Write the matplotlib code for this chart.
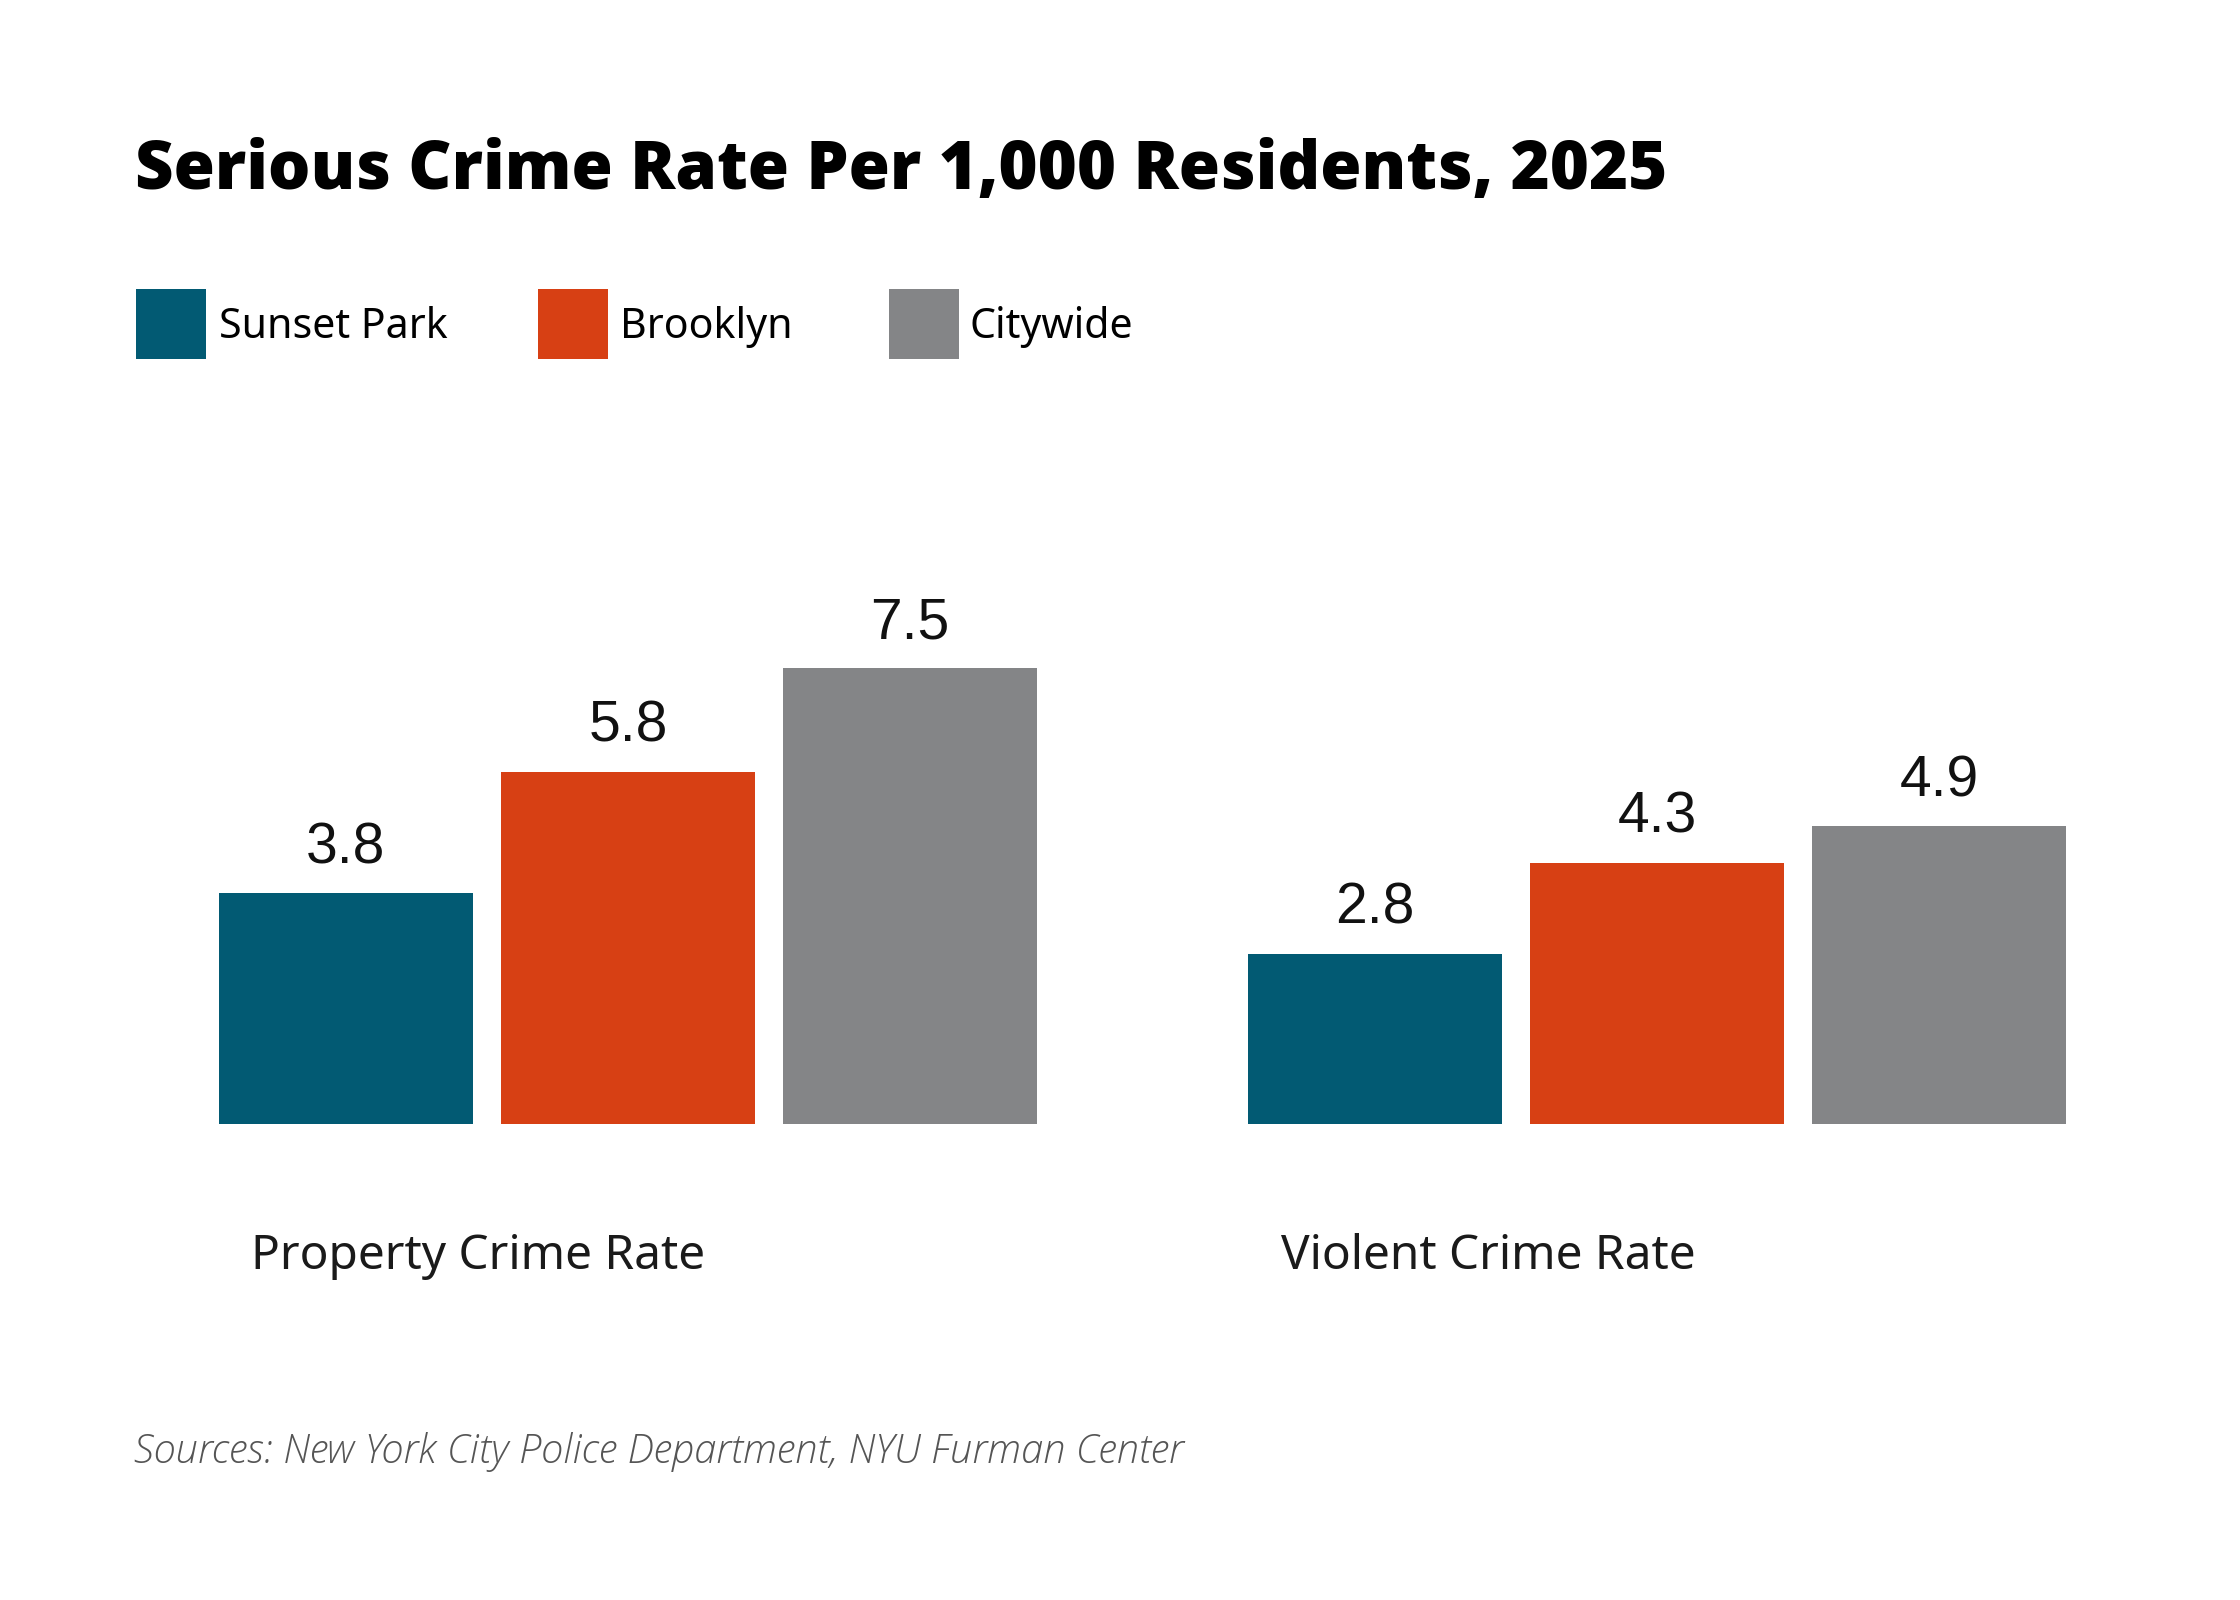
import matplotlib
matplotlib.use("Agg")
import matplotlib.pyplot as plt
from matplotlib.patches import Rectangle
import numpy as np

# ---- data ----
categories = ["Property Crime Rate", "Violent Crime Rate"]
series_names = ["Sunset Park", "Brooklyn", "Citywide"]
sunset_park = [3.8, 2.8]
brooklyn = [5.8, 4.3]
citywide = [7.5, 4.9]
value_labels = {
    "Sunset Park": ["3.8", "2.8"],
    "Brooklyn": ["5.8", "4.3"],
    "Citywide": ["7.5", "4.9"],
}
title = "Serious Crime Rate Per 1,000 Residents, 2025"
source = "Sources: New York City Police Department, NYU Furman Center"

colors = ["#025A73", "#D74014", "#848587"]

W, H, DPI = 2240, 1600, 200
fig = plt.figure(figsize=(W / DPI, H / DPI), dpi=DPI)
fig.patch.set_facecolor("white")

# axes placement (pixel based layout)
left_px, right_px = 219, 2066
bottom_px, top_px = 1124, 638
ax = fig.add_axes([left_px / W, 1 - bottom_px / H,
                   (right_px - left_px) / W, (bottom_px - top_px) / H])

group_gap = 3.65
bar_w = 0.9
group_centers = np.arange(len(categories)) * group_gap + 1.0
all_series = [sunset_park, brooklyn, citywide]

for i, (name, vals) in enumerate(zip(series_names, all_series)):
    xs = group_centers + (i - 1)
    bars = ax.bar(xs, vals, width=bar_w, color=colors[i], linewidth=0, label=name)
    for b, lab in zip(bars, value_labels[name]):
        ax.annotate(lab, (b.get_x() + b.get_width() / 2, b.get_height()),
                    xytext=(0, 10.8), textcoords="offset points",
                    ha="center", va="baseline", fontsize=20.5,
                    family="Liberation Sans", color="#111111")

ax.set_xlim(-0.45, group_centers[-1] + 1 + 0.45)
ax.set_ylim(0, 8)
ax.axis("off")

# category labels (left aligned near group start)
trans = matplotlib.transforms.blended_transform_factory(ax.transData, ax.transAxes)
for gc, cat in zip(group_centers, categories):
    ax.text(gc - 1 - 0.45 + 0.115, -0.298, cat, transform=trans,
            ha="left", va="baseline", fontsize=17.2, family="Noto Sans",
            color="#1a1a1a")

# title
fig.text(135 / W, 1 - 189 / H, title, ha="left", va="baseline",
         fontsize=24.1, family="Open Sans", weight="heavy", color="black")

# legend (manual squares + labels)
sq = 70
sq_x = [136, 538, 889]
txt_x = [219, 620, 969]
sq_top = 289
for name, c, sx, tx in zip(series_names, colors, sq_x, txt_x):
    fig.patches.append(Rectangle((sx / W, 1 - (sq_top + sq) / H), sq / W, sq / H,
                                 transform=fig.transFigure, facecolor=c,
                                 linewidth=0))
    fig.text(tx / W, 1 - 338 / H, name, ha="left", va="baseline",
             fontsize=14.8, family="Noto Sans", color="black")

# source
fig.text(134 / W, 1 - 1463 / H, source, ha="left", va="baseline",
         fontsize=14.35, family="Open Sans", style="italic", weight="light",
         color="#555555")

fig.savefig("out.png", dpi=DPI, facecolor="white")
